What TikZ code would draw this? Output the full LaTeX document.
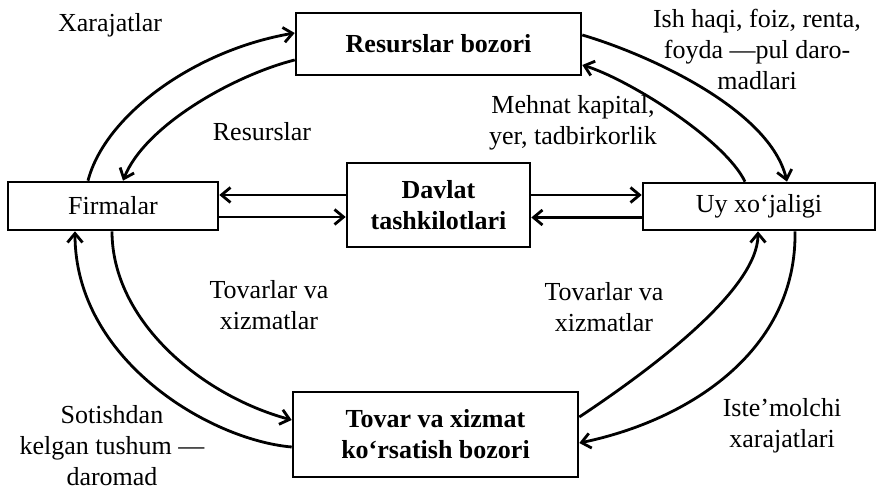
\documentclass[tikz,border=0pt]{standalone}
\usepackage{fontspec}
\setmainfont{Liberation Serif}
\usetikzlibrary{arrows.meta,calc}
\begin{document}
\begin{tikzpicture}[x=0.5pt,y=-0.5pt,
  every node/.style={font=\fontsize{13}{15.5}\selectfont, inner sep=0pt},
  box/.style={draw, line width=1.3pt, align=center},
  lbl/.style={align=center},
  arr/.style={line width=1.4pt, -{Straight Barb[length=4.5pt,width=7.5pt,line width=1.4pt]}}]
\useasboundingbox (0,0) rectangle (882,490);
% boxes
\node[box, minimum width=142.5pt, minimum height=31pt, font=\fontsize{13}{15.5}\selectfont\bfseries] (res) at (438.5,44) {Resurslar bozori};
\node[box, minimum width=105pt, minimum height=24pt] (firm) at (113,206) {Firmalar};
\node[box, minimum width=91.5pt, minimum height=42pt, font=\fontsize{13}{15.5}\selectfont\bfseries] (dav) at (438.5,205) {Davlat\\tashkilotlari};
\node[box, minimum width=116pt, minimum height=23.5pt] (uy) at (759,206.5) {Uy xo‘jaligi};
\node[box, minimum width=142.5pt, minimum height=42.5pt, font=\fontsize{13}{15.5}\selectfont\bfseries] (tov) at (435.5,434.5) {Tovar va xizmat\\ko‘rsatish bozori};
% horizontal arrows
\draw[arr] ([yshift=5pt]dav.west) -- ([yshift=5pt]dav.west -| firm.east);
\draw[arr] ([yshift=-5.5pt]firm.east) -- ([yshift=-5.5pt]firm.east -| dav.west);
\draw[arr] ([yshift=5pt]dav.east) -- ([yshift=5pt]dav.east -| uy.west);
\draw[arr] ([yshift=-5.5pt]uy.west) -- ([yshift=-5.5pt]uy.west -| dav.east);
% top-left curves
\draw[arr] ($(firm.north)+(-25,0)$) .. controls (105,115) and (195,50) .. ($(res.west)+(0,-11)$);
\draw[arr] ($(res.west)+(0,16)$) .. controls (235,75) and (145,125) .. ($(firm.north)+(10,0)$);
% top-right curves
\draw[arr] ($(res.east)+(0,-9)$) .. controls (650,55) and (770,110) .. ($(uy.north)+(28,0)$);
\draw[arr] ($(uy.north)+(-14,0)$) .. controls (725,140) and (630,80) .. ($(res.east)+(0,21)$);
% bottom-left curves
\draw[arr] ($(tov.west)+(0,12.5)$) .. controls (210,440) and (75,360) .. ($(firm.south)+(-38,0)$);
\draw[arr] ($(firm.south)+(-1,0)$) .. controls (112,320) and (200,395) .. ($(tov.west)+(0,-14.5)$);
% bottom-right curves
\draw[arr] ($(tov.east)+(0,-17.5)$) .. controls (650,370) and (758,290) .. ($(uy.south)+(-1,0)$);
\draw[arr] ($(uy.south)+(36,0)$) .. controls (797,350) and (690,420) .. ($(tov.east)+(0,8.5)$);
% labels
\node[lbl] (l1) at (110,25) {Xarajatlar};
\node[lbl] (l2) at (262,132) {Resurslar};
\node[lbl] (l3) at (757,49) {Ish haqi, foiz, renta,\\foyda —pul daro-\\madlari};
\node[lbl] (l4) at (573,123) {Mehnat kapital,\\yer, tadbirkorlik};
\node[lbl] (l5) at (269,305) {Tovarlar va\\xizmatlar};
\node[lbl] (l6) at (604,307) {Tovarlar va\\xizmatlar};
\node[lbl] (l7) at (112,446) {Sotishdan\\kelgan tushum —\\daromad};
\node[lbl] (l8) at (782,426) {Iste’molchi\\xarajatlari};
\end{tikzpicture}
\end{document}
